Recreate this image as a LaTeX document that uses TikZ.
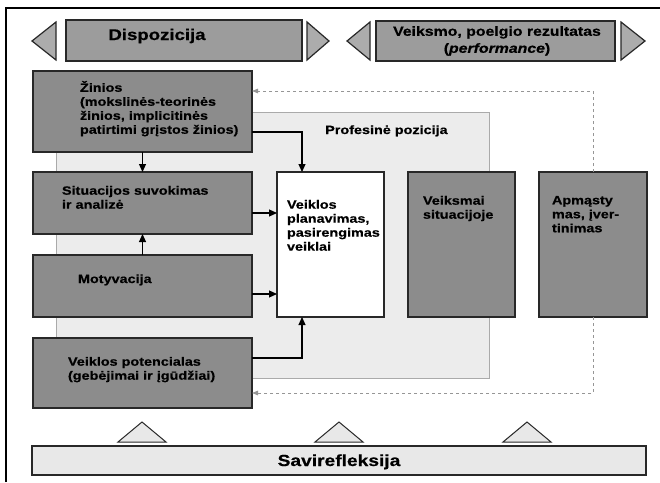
\documentclass[tikz,border=0pt]{standalone}
\usepackage{fontspec}
\setmainfont{Liberation Sans}[FakeStretch=1.2, BoldFeatures={FakeBold=0.6}, BoldItalicFeatures={FakeBold=0.6}]
\usetikzlibrary{arrows.meta}

\definecolor{boxgray}{RGB}{140,140,140}
\definecolor{bargray}{RGB}{156,156,156}
\definecolor{trigray}{RGB}{172,172,172}
\definecolor{zonegray}{RGB}{236,236,236}
\definecolor{zoneline}{RGB}{170,170,170}
\definecolor{basegray}{RGB}{232,232,232}
\definecolor{edgegray}{RGB}{40,40,40}
\definecolor{dashgray}{RGB}{150,150,150}

\begin{document}
\begin{tikzpicture}[x=1pt,y=-1pt,
  darkbox/.style={rectangle, fill=boxgray, draw=edgegray, line width=1.3pt, inner sep=0, outer sep=0},
  whitebox/.style={rectangle, fill=white, draw=edgegray, line width=1.1pt, inner sep=0, outer sep=0},
  headbar/.style={rectangle, fill=bargray, draw=edgegray, line width=1.2pt, inner sep=0, outer sep=0},
  headtri/.style={fill=trigray, draw=edgegray, line width=1.2pt, line join=miter},
  basetri/.style={fill=basegray, draw=edgegray, line width=1pt, line join=miter},
  txt/.style={anchor=north west, inner sep=0, outer sep=0, align=left,
    font=\fontsize{12}{14}\selectfont\bfseries, execute at begin node={\rule{0pt}{12pt}}},
  arr/.style={draw=black, line width=1.1pt, -{Triangle[length=8pt,width=7pt]}},
  dconn/.style={draw=dashgray, line width=1pt, dash pattern=on 3pt off 3pt,
    -{Triangle[length=6pt,width=4.5pt]}}
]
\useasboundingbox (0,0) rectangle (660,482);
\fill[white] (0,0) rectangle (660,482);

% frame
\draw[line width=2pt, black] (6,482) -- (6,8) -- (660,8);

% headers
\draw[headtri] (32,41) -- (56,22) -- (56,60) -- cycle;
\node[headbar, minimum width=236pt, minimum height=41pt] (disp) at (184,40.5) {};
\draw[headtri] (307,22) -- (329,41) -- (307,60) -- cycle;
\node[anchor=base, inner sep=0, font=\fontsize{15.5}{18}\selectfont\bfseries] (dispT) at (157,40) {Dispozicija};

\draw[headtri] (347,41) -- (370,22) -- (370,60) -- cycle;
\node[headbar, minimum width=239pt, minimum height=40pt] (perf) at (495.5,41) {};
\draw[headtri] (621,22) -- (645,41) -- (621,60) -- cycle;
\node[anchor=north, inner sep=0, align=center, font=\fontsize{13.2}{17}\selectfont\bfseries,
  execute at begin node={\rule{0pt}{12pt}}] (perfT) at (497,26)
  {Veiksmo, poelgio rezultatas\\(\textit{performance})};

% professional position zone
\node[rectangle, fill=zonegray, draw=zoneline, line width=0.8pt, inner sep=0,
  minimum width=433pt, minimum height=266pt] (zone) at (272.5,245) {};
\node[anchor=base west, inner sep=0, font=\fontsize{12}{14}\selectfont\bfseries] (zoneT) at (325,134) {Profesinė pozicija};

% left column
\node[darkbox, minimum width=219pt, minimum height=81pt] (zin) at (142.5,111.5) {};
\node[darkbox, minimum width=219pt, minimum height=62pt] (sit) at (142.5,203) {};
\node[darkbox, minimum width=219pt, minimum height=62pt] (mot) at (142.5,286) {};
\node[darkbox, minimum width=219pt, minimum height=70pt] (pot) at (142.5,373) {};

\node[txt] (zinT) at (80,81) {Žinios\\(mokslinės-teorinės\\žinios, implicitinės\\patirtimi grįstos žinios)};
\node[txt] (sitT) at (62,186) {Situacijos suvokimas\\ir analizė};
\node[txt] (motT) at (78,271) {Motyvacija};
\node[txt] (potT) at (68,357) {Veiklos potencialas\\(gebėjimai ir įgūdžiai)};

% action boxes
\node[whitebox, minimum width=107pt, minimum height=145pt] (plan) at (330.5,244.5) {};
\node[darkbox, minimum width=107pt, minimum height=145pt] (veik) at (461.5,244.5) {};
\node[darkbox, minimum width=108pt, minimum height=145pt] (apm) at (593,244.5) {};

\node[txt] (planT) at (287,200) {Veiklos\\planavimas,\\pasirengimas\\veiklai};
\node[txt] (veikT) at (423,196) {Veiksmai\\situacijoje};
\node[txt] (apmT) at (552,196) {Apmąsty\\mas, įver-\\tinimas};

% solid connectors
\draw[arr] (zin.south) -- (sit.north);
\draw[arr] (mot.north) -- (sit.south);
\draw[arr] ([yshift=-20.5pt]zin.east) -| ([xshift=25pt]plan.north west);
\draw[arr] ([yshift=-10pt]sit.east) -- ([yshift=-10pt]sit.east -| plan.west);
\draw[arr] ([yshift=-8pt]mot.east) -- ([yshift=-8pt]mot.east -| plan.west);
\draw[arr] ([yshift=15pt]pot.east) -| ([xshift=25pt]plan.south west);

% feedback from reflection
\coordinate (fbtop) at (593,91);
\coordinate (fbbot) at (593,393);
\draw[dconn] (apm.north) -- (fbtop) -- (fbtop -| zin.east);
\draw[dconn] (apm.south) -- (fbbot) -- (fbbot -| pot.east);

% self-reflection base
\draw[basetri] (118,442) -- (142,422) -- (166,442) -- cycle;
\draw[basetri] (315,442) -- (339,422) -- (363,442) -- cycle;
\draw[basetri] (503,442) -- (527,422) -- (551,442) -- cycle;
\node[rectangle, fill=basegray, draw=edgegray, line width=1.3pt, inner sep=0,
  minimum width=614pt, minimum height=29pt] (sav) at (339,460.5) {};
\node[anchor=base, inner sep=0, font=\fontsize{16}{18}\selectfont\bfseries] (savT) at (339,466) {Savirefleksija};
\end{tikzpicture}
\end{document}
